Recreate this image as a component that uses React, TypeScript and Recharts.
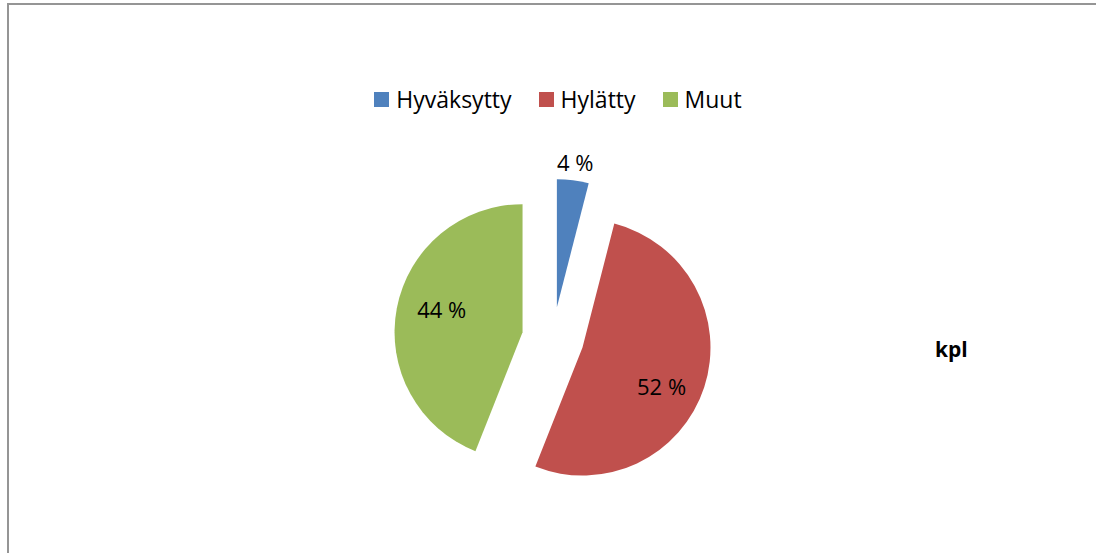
import { PieChart, Pie, Cell } from "recharts";

// Slice data (share of items, "kpl")
const categories = ["Hyväksytty", "Hylätty", "Muut"];
const values = [4, 52, 44];
const colors = ["#4F81BD", "#C0504D", "#9BBB59"];

const data = categories.map((name, i) => ({ name, value: values[i] }));

// pie geometry
const CX = 553;
const CY = 338;
const R = 128;
const EXPLODE = 31;
const LABEL_RADIUS = [146, 88, 84];
const LABEL_TURN = [0, 8, 5];
const FONT = "'Open Sans', 'Noto Sans', sans-serif";

const total = values.reduce((s, v) => s + v, 0);

// centre of each exploded slice, pushed out along its middle angle (clockwise from top)
const centres = values.map((v, i) => {
  const before = values.slice(0, i).reduce((s, x) => s + x, 0);
  const mid = ((before + v / 2) / total) * 2 * Math.PI;
  return { x: CX + EXPLODE * Math.sin(mid), y: CY - EXPLODE * Math.cos(mid) };
});

export default function App() {
  const makeLabel = (owner: number) => (props: any) => {
    if (props.index !== owner) return null;
    const a = ((props.midAngle - LABEL_TURN[owner]) * Math.PI) / 180;
    const x = props.cx + LABEL_RADIUS[owner] * Math.cos(a);
    const y = props.cy - LABEL_RADIUS[owner] * Math.sin(a);
    return (
      <text x={x} y={y} textAnchor="middle" dominantBaseline="central" fill="#000" fontSize={22} fontFamily={FONT}>
        {`${Math.round(props.percent * 100)} %`}
      </text>
    );
  };

  return (
    <div style={{ position: "absolute", left: 0, top: 0, width: 1096, height: 553, background: "#fff", overflow: "hidden" }}>
      <div style={{ position: "absolute", left: 7, top: 3, width: 1100, height: 560, border: "2px solid #959595" }} />
      <div style={{ position: "absolute", left: 0, top: 0 }}>
        <PieChart width={1096} height={553} margin={{ top: 0, right: 0, bottom: 0, left: 0 }}>
          {centres.map((c, owner) => (
            <Pie
              key={owner}
              data={data}
              dataKey="value"
              nameKey="name"
              cx={c.x}
              cy={c.y}
              outerRadius={R}
              startAngle={90}
              endAngle={-270}
              stroke="none"
              labelLine={false}
              label={makeLabel(owner)}
              isAnimationActive={false}
            >
              {data.map((d, i) => (
                <Cell key={d.name} fill={i === owner ? colors[i] : "transparent"} />
              ))}
            </Pie>
          ))}
        </PieChart>
      </div>
      {/* legend */}
      <div style={{ position: "absolute", left: 0, top: 83, width: 1116, display: "flex", justifyContent: "center", alignItems: "center", fontFamily: FONT, fontSize: 23, color: "#000" }}>
        {categories.map((c, i) => (
          <div key={c} style={{ display: "flex", alignItems: "center", marginRight: i < categories.length - 1 ? 27 : 0 }}>
            <span style={{ width: 15, height: 15, background: colors[i], display: "inline-block", marginRight: 7 }} />
            <span>{c}</span>
          </div>
        ))}
      </div>
      <div style={{ position: "absolute", left: 935, top: 335, fontFamily: FONT, fontWeight: 700, fontSize: 21, color: "#000" }}>kpl</div>
    </div>
  );
}
